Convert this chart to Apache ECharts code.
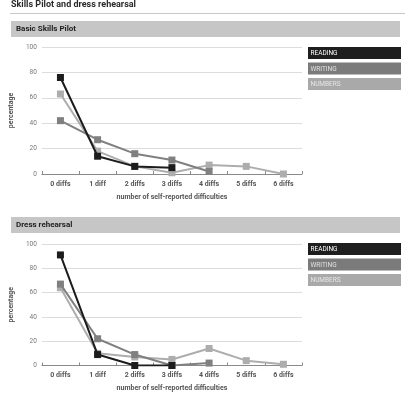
<!DOCTYPE html>
<html><head><meta charset="utf-8">
<script src="https://cdn.jsdelivr.net/npm/echarts@6/dist/echarts.min.js"></script>
<style>html,body{margin:0;padding:0;background:#fff}#c{width:405px;height:393px}</style>
</head><body><div id="c"></div>
<script>
const categories = ['0 diffs','1 diff','2 diffs','3 diffs','4 diffs','5 diffs','6 diffs'];
const seriesNames = ['READING','WRITING','NUMBERS'];
const pilotReading = [76, 14, 6, 5, null, null, null];
const pilotWriting = [42, 27, 16, 11, 2, null, null];
const pilotNumbers = [63, 18, 6, 1, 7, 6, 0];
const rehearsalReading = [91, 9, 0, 0, null, null, null];
const rehearsalWriting = [67, 22, 9, 0, 2, null, null];
const rehearsalNumbers = [64, 10, 7, 5, 14, 4, 1];
const yTicks = [0, 20, 40, 60, 80, 100];
const panelTitles = ['Basic Skills Pilot', 'Dress rehearsal'];
const mainTitle = 'Skills Pilot and dress rehearsal';

const FONT = 'Roboto, "Liberation Sans", sans-serif';
const lineColors = ['#1c1c1c', '#808080', '#adadad'];
const boxColors = ['#1e1e1e', '#7b7b7b', '#a9a9a9'];
const boxText = ['#ffffff', '#e0e0e0', '#e6e6e6'];

const grids = [
  {left: 27, right: 103, top: 47, height: 127},
  {left: 27, right: 103, top: 244, height: 126.5}
];

function xAxis(i){
  return {
    type:'category', gridIndex:i, data:categories, boundaryGap:true,
    axisLine:{show:true, lineStyle:{color:'#8a8a8a', width:1}},
    axisTick:{show:true, inside:true, length:3, lineStyle:{color:'#8a8a8a'}},
    axisLabel:{color:'#555', fontSize:7, fontWeight:'bold', fontFamily:FONT, margin:6.5},
    name:'number of self-reported difficulties', nameLocation:'middle', nameGap:19.5,
    nameTextStyle:{color:'#555', fontSize:7, fontWeight:'bold', fontFamily:FONT}
  };
}
function yAxis(i){
  return {
    type:'value', gridIndex:i, min:0, max:100, interval:20,
    axisLine:{show:false}, axisTick:{show:false},
    splitLine:{lineStyle:{color:'#dcdcdc', width:1}},
    axisLabel:{color:'#777', fontSize:6.5, fontFamily:FONT, margin:5,
      formatter: v => yTicks.includes(v) ? String(v) : ''},
    name:'percentage', nameLocation:'middle', nameRotate:90, nameGap:20,
    nameTextStyle:{color:'#555', fontSize:7, fontWeight:'bold', fontFamily:FONT}
  };
}
function mk(name, data, idx, gi){
  return {
    type:'line', name: name, xAxisIndex:gi, yAxisIndex:gi, data:data,
    symbol:'rect', symbolSize:7, showSymbol:true,
    lineStyle:{color:lineColors[idx], width:2},
    itemStyle:{color:lineColors[idx]},
    z: 3 + (2-idx) , animation:false
  };
}
const series = [
  mk(seriesNames[2], pilotNumbers, 2, 0),
  mk(seriesNames[1], pilotWriting, 1, 0),
  mk(seriesNames[0], pilotReading, 0, 0),
  mk(seriesNames[2], rehearsalNumbers, 2, 1),
  mk(seriesNames[1], rehearsalWriting, 1, 1),
  mk(seriesNames[0], rehearsalReading, 0, 1)
];

const graphic = [
  {type:'text', left:11, top:0, style:{text:mainTitle, font:'bold 9px '+FONT, fill:'#2a2a2a'}},
  {type:'line', shape:{x1:10, y1:13.5, x2:405, y2:13.5}, style:{stroke:'#c8c8c8', lineWidth:1}}
];
const panelTops = [21, 217];
const legendTops = [47, 243];
panelTops.forEach((t, p) => {
  graphic.push({type:'rect', shape:{x:11, y:t, width:389, height:16}, style:{fill:'#c6c6c6'}});
  graphic.push({type:'text', left:16, top:t+4, style:{text:panelTitles[p], font:'bold 8px '+FONT, fill:'#222'}});
  seriesNames.forEach((n, i) => {
    const y = legendTops[p] + i*15.5;
    graphic.push({type:'rect', shape:{x:308, y:y, width:93, height:12}, style:{fill:boxColors[i]}});
    graphic.push({type:'text', left:310.5, top:y+3, style:{text:n, font:'6.5px '+FONT, fill:boxText[i]}});
  });
});

const chart = echarts.init(document.getElementById('c'), null, {renderer:'canvas'});
chart.setOption({
  animation:false,
  grid: grids,
  xAxis: [xAxis(0), xAxis(1)],
  yAxis: [yAxis(0), yAxis(1)],
  series: series,
  graphic: graphic
});
</script></body></html>
